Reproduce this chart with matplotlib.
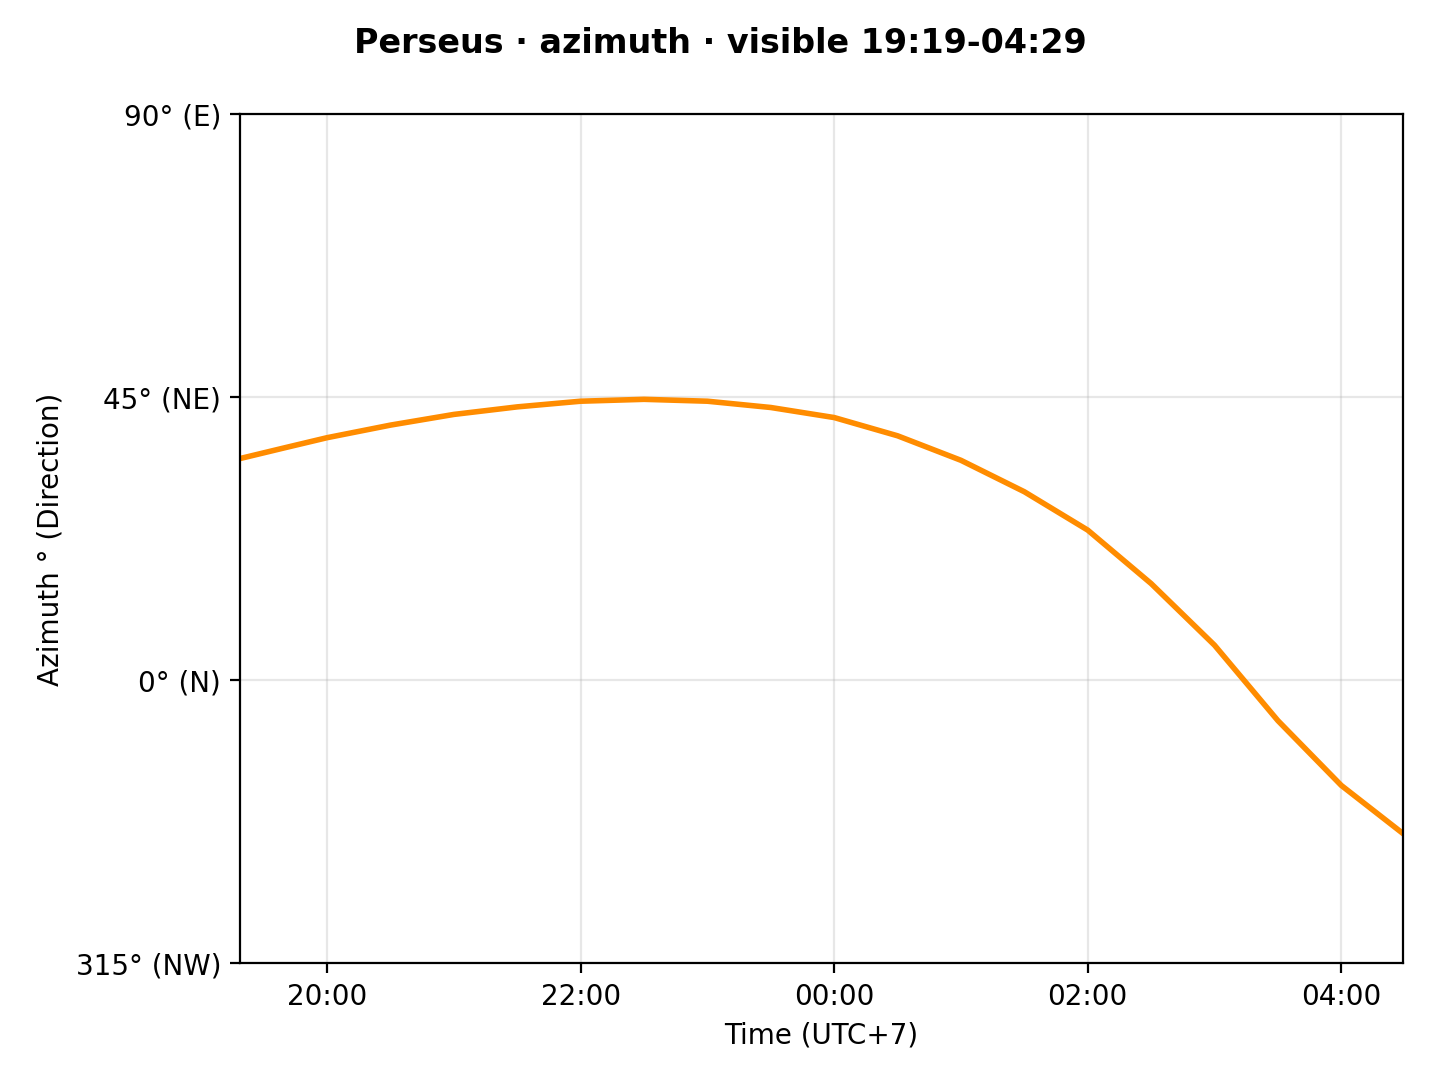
import matplotlib
matplotlib.use("Agg")
import matplotlib.pyplot as plt
import matplotlib.dates as mdates
from datetime import datetime, timedelta

times = ["19:19","19:40","20:00","20:30","21:00","21:30","22:00","22:30","23:00","23:30","00:00",
         "00:30","01:00","01:30","02:00","02:30","03:00","03:30","04:00","04:29"]
azimuth = [35.3,37.0,38.6,40.6,42.3,43.5,44.4,44.7,44.4,43.4,41.8,
           38.9,35.0,30.0,23.9,15.4,5.6,-6.4,-16.7,-24.3]
yticks = [-45, 0, 45, 90]
ylabels = ["315° (NW)", "0° (N)", "45° (NE)", "90° (E)"]

base = datetime(2024, 1, 1)
x = []
for t in times:
    h, m = map(int, t.split(":"))
    d = base + timedelta(hours=h, minutes=m)
    if h < 12:
        d += timedelta(days=1)
    x.append(d)

fig = plt.figure(figsize=(7.2, 5.4), dpi=200)
ax = fig.add_axes([0.167, 0.108, 0.807, 0.786])
ax.plot(x, azimuth, color="#ff8c00", lw=2)
ax.set_xlim(x[0], x[-1])
ax.set_ylim(-45, 90)
ax.set_yticks(yticks)
ax.set_yticklabels(ylabels)
ax.xaxis.set_major_locator(mdates.HourLocator(byhour=[0, 2, 4, 20, 22]))
ax.xaxis.set_major_formatter(mdates.DateFormatter("%H:%M"))
ax.grid(True, alpha=0.3)
ax.set_xlabel("Time (UTC+7)")
ax.set_ylabel("Azimuth ° (Direction)")
fig.suptitle("Perseus · azimuth · visible 19:19-04:29", fontweight="bold", y=0.975)
fig.savefig("out.png")
